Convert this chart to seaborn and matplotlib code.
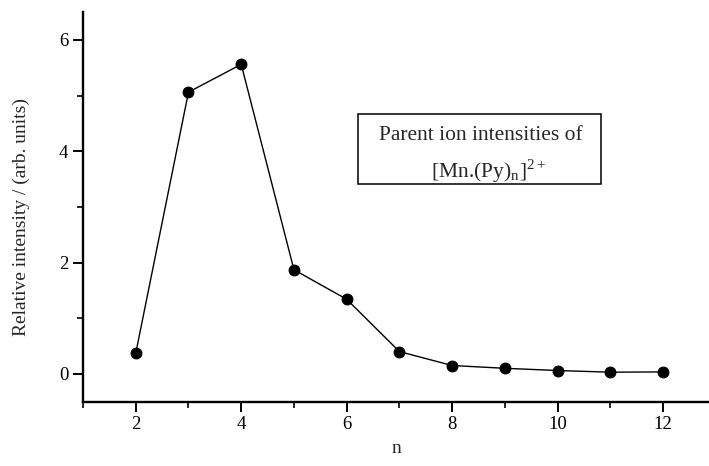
import matplotlib
matplotlib.use("Agg")
import matplotlib.pyplot as plt
import seaborn as sns
import pandas as pd
from matplotlib.patches import Rectangle
from matplotlib.ticker import MultipleLocator

n_values = [2, 3, 4, 5, 6, 7, 8, 9, 10, 11, 12]
intensity = [0.37, 5.06, 5.56, 1.87, 1.34, 0.40, 0.15, 0.10, 0.06, 0.03, 0.035]
x_label = "n"
y_label = "Relative intensity / (arb. units)"
box_line1 = "Parent ion intensities of"
box_line2 = r"[Mn.(Py)$_\mathregular{n}$]$^\mathregular{2+}$"

sns.set_style("ticks")
plt.rcParams["font.family"] = ["Liberation Serif", "DejaVu Serif"]
plt.rcParams["mathtext.fontset"] = "stix"

df = pd.DataFrame({"n": n_values, "intensity": intensity})

fig = plt.figure(figsize=(7.09, 4.66), dpi=100)
ax = fig.add_axes([83 / 709, 64.3 / 466, (709 - 83) / 709, 389.7 / 466])

sns.lineplot(data=df, x="n", y="intensity", ax=ax, color="black", linewidth=1.0,
             marker="o", markersize=7.8, markeredgecolor="black",
             markerfacecolor="black")

ax.set_xlim(1, 12.87)
ax.set_ylim(-0.5, 6.5)
ax.xaxis.set_major_locator(MultipleLocator(2))
ax.xaxis.set_minor_locator(MultipleLocator(1))
ax.yaxis.set_major_locator(MultipleLocator(2))
ax.yaxis.set_minor_locator(MultipleLocator(1))
ax.tick_params(which="major", direction="out", length=7, width=1.4,
               labelsize=13.5, colors="black", pad=3.5)
ax.tick_params(which="minor", direction="out", length=4, width=1.4)

for side in ["top", "right"]:
    ax.spines[side].set_visible(False)
for side in ["left", "bottom"]:
    ax.spines[side].set_linewidth(1.7)
    ax.spines[side].set_color("black")

ax.set_xlabel(x_label, fontsize=14, labelpad=5)
ax.set_ylabel(y_label, fontsize=14)
ax.yaxis.set_label_coords(-0.084, 0.474)

# annotation box
bx0, bx1, by0, by1 = 358, 601, 114, 184
rect = Rectangle((bx0 / 709, 1 - by1 / 466), (bx1 - bx0) / 709, (by1 - by0) / 466,
                 transform=fig.transFigure, fill=False, edgecolor="black",
                 linewidth=1.1)
fig.patches.append(rect)
fig.text(481 / 709, 1 - 140 / 466, box_line1, ha="center", va="baseline", fontsize=15.5)
fig.text(489 / 709, 1 - 178 / 466, box_line2, ha="center", va="baseline", fontsize=15.5)

fig.savefig("out.png", dpi=100)
